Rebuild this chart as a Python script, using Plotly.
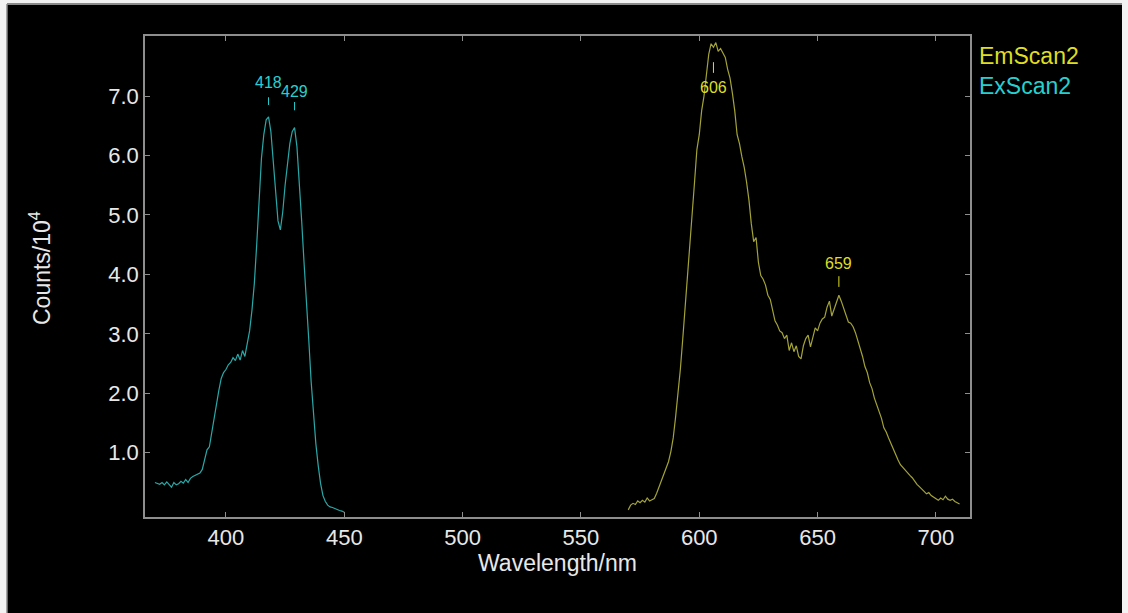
import plotly.graph_objects as go

# ---- data ----
ex_wavelength = list(range(370, 451))
ex_counts = [0.50, 0.48, 0.47, 0.50, 0.46, 0.51, 0.47, 0.42, 0.50, 0.46,
             0.48, 0.52, 0.49, 0.55, 0.50, 0.57, 0.60, 0.62, 0.64, 0.66,
             0.72, 0.88, 1.05, 1.10, 1.35, 1.60, 1.85, 2.05, 2.25, 2.35,
             2.40, 2.48, 2.52, 2.60, 2.55, 2.66, 2.56, 2.72, 2.62, 2.85,
             3.05, 3.40, 3.85, 4.50, 5.30, 5.95, 6.35, 6.60, 6.65, 6.40,
             5.90, 5.40, 4.90, 4.75, 5.05, 5.50, 5.90, 6.20, 6.40, 6.47,
             6.15, 5.60, 4.90, 4.20, 3.60, 2.90, 2.20, 1.60, 1.15, 0.78,
             0.48, 0.28, 0.18, 0.12, 0.09, 0.08, 0.06, 0.05, 0.03, 0.02,
             0.00]

em_wavelength = list(range(570, 711))
em_counts = [0.04, 0.12, 0.15, 0.13, 0.19, 0.16, 0.20, 0.17, 0.24, 0.19,
             0.21, 0.23, 0.32, 0.42, 0.55, 0.62, 0.72, 0.85, 1.02, 1.25,
             1.60, 1.95, 2.40, 2.90, 3.40, 3.95, 4.45, 5.00, 5.55, 6.10,
             6.35, 6.75, 7.00, 7.35, 7.70, 7.88, 7.82, 7.90, 7.75, 7.80,
             7.72, 7.65, 7.45, 7.30, 7.05, 6.75, 6.35, 6.20, 5.98, 5.80,
             5.55, 5.25, 4.85, 4.55, 4.62, 4.20, 3.98, 3.92, 3.82, 3.65,
             3.58, 3.38, 3.22, 3.15, 3.05, 3.02, 2.92, 2.98, 2.72, 2.85,
             2.70, 2.80, 2.62, 2.58, 2.80, 2.92, 2.98, 2.78, 2.95, 3.10,
             3.05, 3.18, 3.25, 3.28, 3.45, 3.55, 3.30, 3.42, 3.52, 3.65,
             3.55, 3.42, 3.30, 3.20, 3.18, 3.12, 3.02, 2.90, 2.78, 2.62,
             2.45, 2.35, 2.18, 2.08, 1.92, 1.80, 1.68, 1.58, 1.42, 1.35,
             1.25, 1.15, 1.08, 0.98, 0.88, 0.80, 0.75, 0.70, 0.66, 0.62,
             0.58, 0.52, 0.47, 0.43, 0.38, 0.35, 0.31, 0.33, 0.28, 0.25,
             0.22, 0.20, 0.24, 0.21, 0.27, 0.22, 0.20, 0.22, 0.18, 0.16,
             0.14]

series_names = ["EmScan2", "ExScan2"]

# peak labels: (wavelength, label y, tick bottom, tick top)
ex_peaks = [418, 429]
ex_peak_label_y = [7.22, 7.07]
ex_peak_tick = [(6.85, 6.98), (6.76, 6.90)]
em_peaks = [606, 659]
em_peak_label_y = [7.15, 4.18]
em_peak_tick = [(7.39, 7.57), (3.79, 3.97)]

x_ticks = [400, 450, 500, 550, 600, 650, 700]
y_ticks = [1.0, 2.0, 3.0, 4.0, 5.0, 6.0, 7.0]

EX_LINE = "#2aa8a8"
EX_TEXT = "#27d0d0"
EM_LINE = "#a3a338"
EM_TEXT = "#dede22"
AXIS = "#8e8e8e"
TXT = "#e8e8e8"
FONT = "Liberation Sans, Arial, sans-serif"

fig = go.Figure()
fig.add_trace(go.Scatter(x=em_wavelength, y=em_counts, mode="lines", name=series_names[0],
                         line=dict(color=EM_LINE, width=1.2), showlegend=False))
fig.add_trace(go.Scatter(x=ex_wavelength, y=ex_counts, mode="lines", name=series_names[1],
                         line=dict(color=EX_LINE, width=1.2), showlegend=False))

annotations = []
shapes = []
for wl, ly, (t0, t1) in zip(ex_peaks, ex_peak_label_y, ex_peak_tick):
    annotations.append(dict(x=wl, y=ly, xref="x", yref="y", text=str(wl), showarrow=False,
                            xanchor="center", yanchor="middle",
                            font=dict(family=FONT, size=16, color=EX_TEXT)))
    shapes.append(dict(type="line", xref="x", yref="y", x0=wl, x1=wl, y0=t0, y1=t1,
                       line=dict(color=EX_TEXT, width=1)))
for wl, ly, (t0, t1) in zip(em_peaks, em_peak_label_y, em_peak_tick):
    annotations.append(dict(x=wl, y=ly, xref="x", yref="y", text=str(wl), showarrow=False,
                            xanchor="center", yanchor="middle",
                            font=dict(family=FONT, size=16, color=EM_TEXT)))
    shapes.append(dict(type="line", xref="x", yref="y", x0=wl, x1=wl, y0=t0, y1=t1,
                       line=dict(color=EM_TEXT, width=1)))

# legend-like text entries
L, R, T, B = 145, 158, 36, 96
W, H = 1128, 613
pw, ph = W - L - R, H - T - B

def px(x):
    return (x - L) / pw

def py(y):
    return 1 - (y - T) / ph

annotations.append(dict(x=px(977), y=py(56), xref="paper", yref="paper", xanchor="left",
                        yanchor="middle", text=series_names[0], showarrow=False,
                        font=dict(family=FONT, size=23, color=EM_TEXT)))
annotations.append(dict(x=px(977), y=py(86), xref="paper", yref="paper", xanchor="left",
                        yanchor="middle", text=series_names[1], showarrow=False,
                        font=dict(family=FONT, size=23, color=EX_TEXT)))

# y-axis title
annotations.append(dict(x=px(40), y=py(268), xref="paper", yref="paper", textangle=-90,
                        xanchor="center", yanchor="middle",
                        text="Counts/10<sup>4</sup>", showarrow=False,
                        font=dict(family=FONT, size=23, color=TXT)))

# frame of the screenshot
shapes.append(dict(type="rect", xref="paper", yref="paper", x0=px(0), x1=px(7), y0=py(613), y1=py(0),
                   fillcolor="#f2f2f2", line=dict(width=0), layer="below"))
shapes.append(dict(type="rect", xref="paper", yref="paper", x0=px(1122), x1=px(1128), y0=py(613), y1=py(0),
                   fillcolor="#f2f2f2", line=dict(width=0), layer="below"))
shapes.append(dict(type="rect", xref="paper", yref="paper", x0=px(0), x1=px(1128), y0=py(3), y1=py(0),
                   fillcolor="#f2f2f2", line=dict(width=0), layer="below"))
shapes.append(dict(type="line", xref="paper", yref="paper", x0=px(7), x1=px(1122), y0=py(4), y1=py(4),
                   line=dict(color="#8a8a8a", width=2)))
shapes.append(dict(type="line", xref="paper", yref="paper", x0=px(7), x1=px(7), y0=py(613), y1=py(4),
                   line=dict(color="#8a8a8a", width=1.5)))

fig.update_layout(
    width=W, height=H,
    margin=dict(l=L, r=R, t=T, b=B),
    paper_bgcolor="#000000",
    plot_bgcolor="#000000",
    font=dict(family=FONT, color=TXT),
    annotations=annotations,
    shapes=shapes,
    showlegend=False,
)
fig.update_xaxes(
    range=[365.8, 714.4], tickvals=x_ticks, ticktext=[str(v) for v in x_ticks],
    showgrid=False, zeroline=False, showline=True, linecolor=AXIS, linewidth=1.5,
    mirror="allticks", ticks="inside", ticklen=5, tickcolor=AXIS,
    tickfont=dict(family=FONT, size=22, color=TXT),
    title=dict(text="Wavelength/nm", font=dict(family=FONT, size=23, color=TXT), standoff=3),
)
fig.update_yaxes(
    range=[-0.08, 8.01], tickvals=y_ticks, ticktext=[f"{v:.1f}" for v in y_ticks],
    showgrid=False, zeroline=False, showline=True, linecolor=AXIS, linewidth=1.5,
    mirror="allticks", ticks="inside", ticklen=5, tickcolor=AXIS,
    tickfont=dict(family=FONT, size=22, color=TXT),
)

fig.write_html("out.html")
